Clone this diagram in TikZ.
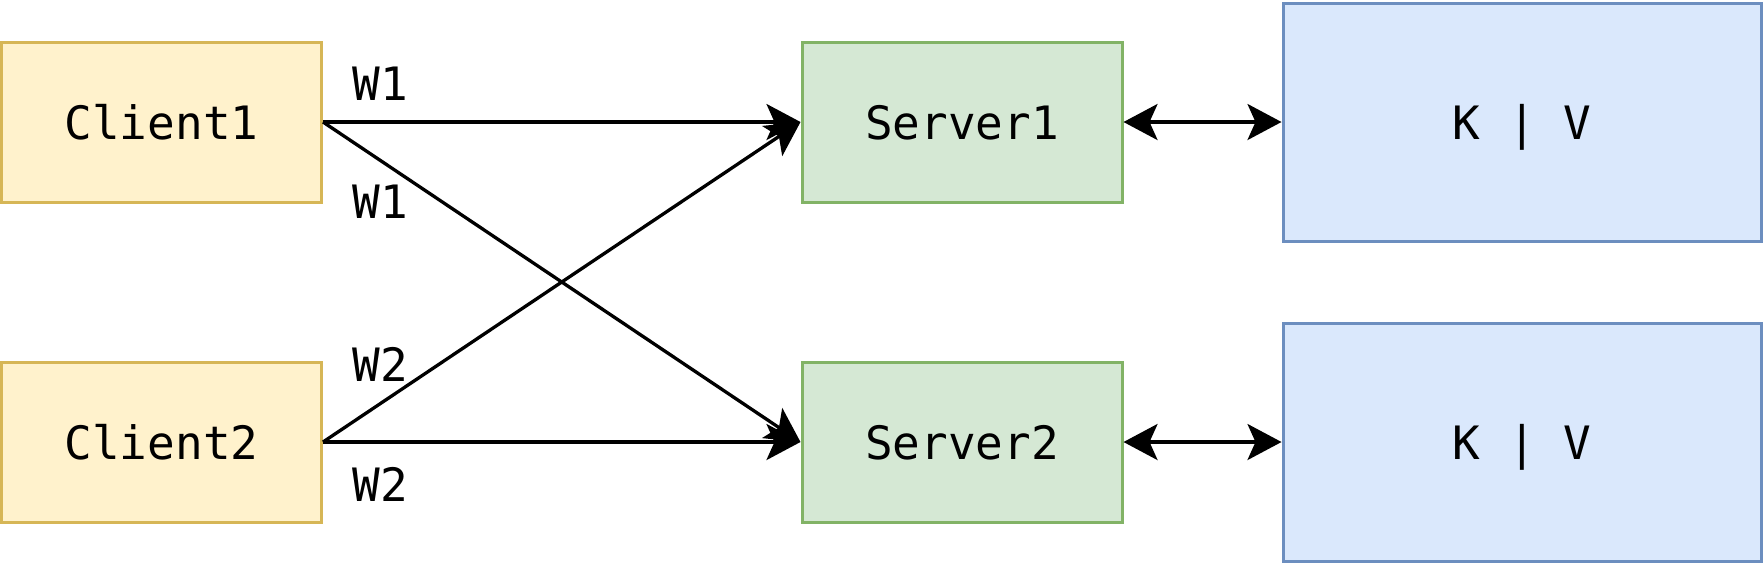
\documentclass[tikz,border=0pt]{standalone}
\usepackage{fontspec}
\setmonofont{DejaVu Sans Mono}
\usetikzlibrary{arrows.meta}
\definecolor{clientfill}{HTML}{FFF2CC}
\definecolor{clientdraw}{HTML}{D6B656}
\definecolor{serverfill}{HTML}{D5E8D4}
\definecolor{serverdraw}{HTML}{82B366}
\definecolor{kvfill}{HTML}{DAE8FC}
\definecolor{kvdraw}{HTML}{6C8EBF}
\begin{document}
\begin{tikzpicture}[x=0.5pt,y=-0.5pt,
  txt/.style={font=\ttfamily\fontsize{23}{28}\selectfont},
  box/.style={txt, draw, line width=1.5pt, inner sep=0pt, text depth=0pt},
  client/.style={box, fill=clientfill, draw=clientdraw, minimum width=160pt, minimum height=80pt},
  server/.style={box, fill=serverfill, draw=serverdraw, minimum width=160pt, minimum height=80pt},
  kv/.style={box, fill=kvfill, draw=kvdraw, minimum width=239pt, minimum height=119pt},
  tip/.tip={Stealth[length=17pt,width=18pt,inset=4pt]},
  conn/.style={line width=1.65pt, -tip},
  biconn/.style={line width=1.65pt, tip-tip},
  lbl/.style={txt, inner sep=0pt}]
\useasboundingbox (0,0) rectangle (1764,564);
\node[client] (c1) at (161.5,122) {Client1};
\node[client] (c2) at (161.5,442) {Client2};
\node[server] (s1) at (962,122) {Server1};
\node[server] (s2) at (962,442) {Server2};
\node[kv] (kv1) at (1522,122) {K | V};
\node[kv] (kv2) at (1522,442) {K | V};
\draw[conn] (c1.east) -- (s1.west);
\draw[conn] (c1.east) -- (s2.west);
\draw[conn] (c2.east) -- (s1.west);
\draw[conn] (c2.east) -- (s2.west);
\draw[biconn] (s1.east) -- (kv1.west);
\draw[biconn] (s2.east) -- (kv2.west);
\node[lbl] (l1) at (380,84) {W1};
\node[lbl] (l2) at (380,202) {W1};
\node[lbl] (l3) at (380,364) {W2};
\node[lbl] (l4) at (380,484) {W2};
\end{tikzpicture}
\end{document}
